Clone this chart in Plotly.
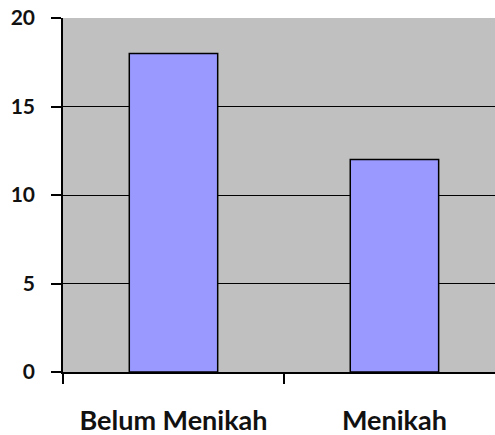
import plotly.graph_objects as go

categories = ["Belum Menikah", "Menikah"]
values = [18, 12]
y_ticks = [0, 5, 10, 15, 20]

fig = go.Figure()
fig.add_trace(go.Bar(
    x=categories, y=values, width=0.4,
    marker=dict(color="#9999FF", line=dict(color="black", width=1.5)),
))

fig.update_layout(
    width=495, height=435,
    margin=dict(l=63, r=0, t=18, b=63, autoexpand=False),
    paper_bgcolor="white", plot_bgcolor="#C0C0C0",
    showlegend=False,
    font=dict(family="Lato", color="#111111"),
)
fig.update_xaxes(
    range=[-0.5, 1.455], showline=True, linecolor="black", linewidth=1.5,
    ticks="outside", tickson="boundaries", ticklen=10, tickcolor="black", tickwidth=1.5,
    tickfont=dict(family="Lato", size=27, weight="bold"),
    ticklabelstandoff=24, showgrid=False, automargin=False,
)
fig.update_yaxes(
    range=[0, 20], tickvals=y_ticks, showline=True, linecolor="black", linewidth=1.5,
    ticks="outside", ticklen=10, tickcolor="black", tickwidth=1.5,
    showgrid=True, gridcolor="black", gridwidth=1.2, zeroline=False,
    tickfont=dict(family="Lato", size=21, weight="bold"),
    ticklabelstandoff=12, automargin=False,
)
fig.write_html(
    "out.html",
    config={"displayModeBar": False},
    post_script="document.body.style.margin='0px';document.body.style.overflow='hidden';",
)
